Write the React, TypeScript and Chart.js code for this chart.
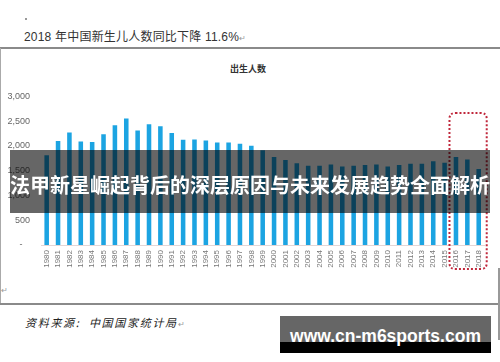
import React, { useEffect, useRef } from "react";
import { Chart, registerables } from "chart.js";

Chart.register(...registerables);

const years: string[] = [
  "1980", "1981", "1982", "1983", "1984", "1985", "1986", "1987", "1988", "1989",
  "1990", "1991", "1992", "1993", "1994", "1995", "1996", "1997", "1998", "1999",
  "2000", "2001", "2002", "2003", "2004", "2005", "2006", "2007", "2008", "2009",
  "2010", "2011", "2012", "2013", "2014", "2015", "2016", "2017", "2018",
];

const births: number[] = [
  1810, 2100, 2270, 2090, 2080, 2235, 2420, 2555, 2310, 2440,
  2395, 2260, 2125, 2130, 2110, 2068, 2068, 2042, 2003, 1913,
  1778, 1715, 1651, 1599, 1599, 1624, 1586, 1599, 1613, 1624,
  1586, 1613, 1638, 1638, 1690, 1663, 1778, 1728, 1536,
];

const yTicks: number[] = [0, 500, 1000, 1500, 2000, 2500, 3000];

const highlightFrom = "2016";
const highlightTo = "2018";
const highlightTop = 2665;

const chartTitle = "出生人数";
const headerText = "2018 年中国新生儿人数同比下降 11.6%";
const sourceText = "资料来源:  中国国家统计局";
const bannerText = "法甲新星崛起背后的深层原因与未来发展趋势全面解析";
const watermarkText = "www.cn-m6sports.com";

const highlightPlugin = {
  id: "highlightBox",
  afterDatasetsDraw(chart: any) {
    const { ctx, scales, chartArea } = chart;
    const x = scales.x;
    const y = scales.y;
    const i0 = years.indexOf(highlightFrom);
    const i1 = years.indexOf(highlightTo);
    const left = x.getPixelForValue(i0) - 6.5;
    const right = x.getPixelForValue(i1) + 8;
    const top = y.getPixelForValue(highlightTop);
    const bottom = chartArea.bottom + 24;
    const r = 6;
    ctx.save();
    ctx.strokeStyle = "#c0283c";
    ctx.lineWidth = 2;
    ctx.setLineDash([2, 2]);
    ctx.beginPath();
    ctx.moveTo(left + r, top);
    ctx.lineTo(right - r, top);
    ctx.quadraticCurveTo(right, top, right, top + r);
    ctx.lineTo(right, bottom - r);
    ctx.quadraticCurveTo(right, bottom, right - r, bottom);
    ctx.lineTo(left + r, bottom);
    ctx.quadraticCurveTo(left, bottom, left, bottom - r);
    ctx.lineTo(left, top + r);
    ctx.quadraticCurveTo(left, top, left + r, top);
    ctx.stroke();
    ctx.restore();
  },
};

export default function App() {
  const ref = useRef<HTMLCanvasElement | null>(null);

  useEffect(() => {
    if (!ref.current) return;
    const chart = new Chart(ref.current, {
      type: "bar",
      data: {
        labels: years,
        datasets: [
          {
            data: births,
            backgroundColor: "#1ca4e2",
            barPercentage: 0.4,
            categoryPercentage: 1,
          },
        ],
      },
      options: {
        animation: false,
        responsive: false,
        layout: { padding: { top: 9.3, right: 15.6, left: 0, bottom: 0 } },
        plugins: {
          legend: { display: false },
          tooltip: { enabled: false },
          title: { display: false },
        },
        scales: {
          x: {
            grid: { display: false, drawTicks: false },
            border: { display: true, color: "#e3d6d6" },
            ticks: {
              minRotation: 90,
              maxRotation: 90,
              autoSkip: false,
              padding: 5,
              color: "#777",
              font: { family: "Liberation Sans", size: 8 },
            },
            afterFit: (s: any) => {
              s.height = 35;
            },
          },
          y: {
            min: 0,
            max: 3000,
            grid: { display: false, drawTicks: false },
            border: { display: false },
            afterBuildTicks: (s: any) => {
              s.ticks = yTicks.map((v) => ({ value: v }));
            },
            ticks: {
              padding: 11,
              color: "#666",
              font: { family: "Liberation Sans", size: 9 },
              callback: (v: any) => (Number(v) === 0 ? "-   " : Number(v).toLocaleString("en-US")),
            },
            afterFit: (s: any) => {
              s.width = 41;
            },
          },
        },
      },
      plugins: [highlightPlugin],
    });
    return () => chart.destroy();
  }, []);

  return (
    <div
      style={{
        position: "fixed",
        left: 0,
        top: 0,
        width: 500,
        height: 362,
        background: "#fff",
        overflow: "hidden",
        fontFamily: "'Liberation Sans', 'Noto Sans CJK SC', sans-serif",
      }}
    >
      <div style={{ position: "absolute", left: 25, top: 18, width: 2, height: 2, background: "#999" }} />
      <div
        style={{
          position: "absolute",
          left: 24,
          top: 30,
          fontSize: 12,
          lineHeight: "14px",
          color: "#333",
          whiteSpace: "nowrap",
          letterSpacing: 0.2,
        }}
      >
        {headerText}
        <span style={{ fontSize: 8, color: "#999" }}>↵</span>
      </div>
      <div style={{ position: "absolute", left: 0, top: 47, width: 500, height: 2, background: "#8a8a8a" }} />
      <div style={{ position: "absolute", left: 0, top: 48, width: 1, height: 256, background: "#aaa" }} />
      <div
        style={{
          position: "absolute",
          left: 200,
          width: 96,
          top: 63,
          textAlign: "center",
          fontSize: 9,
          lineHeight: "12px",
          fontWeight: "bold",
          color: "#333",
          fontFamily: "'Noto Sans CJK SC', sans-serif",
        }}
      >
        {chartTitle}
      </div>
      <div style={{ position: "absolute", left: 0, top: 80, width: 500, height: 200 }}>
        <canvas ref={ref} width={500} height={200} style={{ display: "block" }} />
      </div>
      <div style={{ position: "absolute", left: 1, top: 286, fontSize: 8, color: "#999" }}>↵</div>
      <div style={{ position: "absolute", left: 0, top: 303, width: 500, height: 2, background: "#8a8a8a" }} />
      <div style={{ position: "absolute", left: 498, top: 268, width: 1.5, height: 72, background: "#999" }} />
      <div
        style={{
          position: "absolute",
          left: 25,
          top: 315,
          fontSize: 11,
          lineHeight: "14px",
          fontStyle: "italic",
          color: "#222",
          letterSpacing: 1.7,
          whiteSpace: "pre",
          fontFamily: "'Noto Sans CJK SC', sans-serif",
        }}
      >
        {sourceText}
        <span style={{ fontSize: 8, color: "#999", fontStyle: "normal" }}>↵</span>
      </div>
      <div
        style={{
          position: "absolute",
          left: 10,
          top: 150,
          width: 480,
          height: 63,
          background: "rgba(0,0,0,0.6)",
        }}
      >
        <div
          style={{
            position: "absolute",
            left: -4,
            width: 488,
            top: 25,
            textAlign: "center",
            fontSize: 20,
            lineHeight: "20px",
            fontWeight: "bold",
            color: "#fff",
            whiteSpace: "nowrap",
            fontFamily: "'Noto Sans CJK SC', sans-serif",
          }}
        >
          {bannerText}
        </div>
      </div>
      <div style={{ position: "absolute", left: 280, top: 316, width: 211, height: 26, background: "#666" }} />
      <div style={{ position: "absolute", left: 280, top: 342, width: 211, height: 11, background: "#000" }} />
      <div
        style={{
          position: "absolute",
          left: 280,
          top: 326.8,
          width: 211,
          textAlign: "center",
          fontSize: 17.5,
          lineHeight: "18px",
          fontWeight: "bold",
          color: "#fff",
          whiteSpace: "nowrap",
          fontFamily: "'Liberation Sans', sans-serif",
        }}
      >
        {watermarkText}
      </div>
    </div>
  );
}
